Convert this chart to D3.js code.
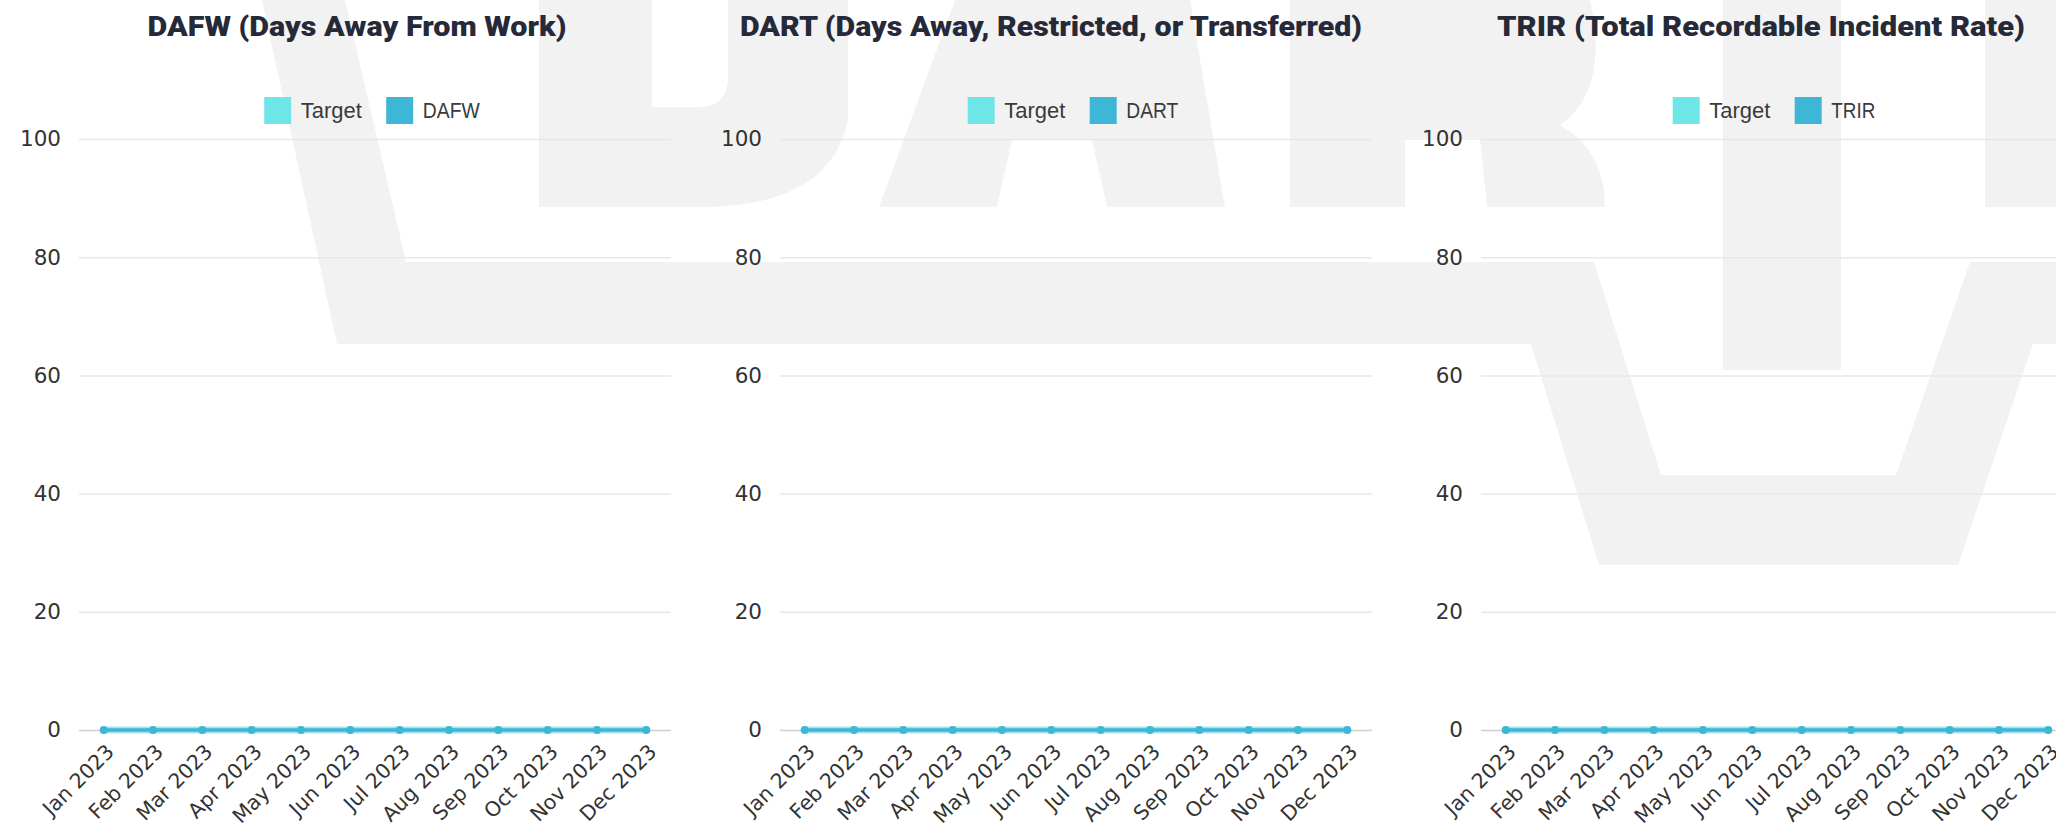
<!DOCTYPE html>
<html>
<head>
<meta charset="utf-8">
<script src="https://cdn.jsdelivr.net/npm/d3@7/dist/d3.min.js"></script>
<style>
  html, body { margin: 0; padding: 0; background: #ffffff; }
  svg { display: block; }
</style>
</head>
<body>
<svg id="chart" width="2056" height="828"></svg>
<script>
// ---------------- DATA ----------------
const months = ["Jan 2023","Feb 2023","Mar 2023","Apr 2023","May 2023","Jun 2023",
                "Jul 2023","Aug 2023","Sep 2023","Oct 2023","Nov 2023","Dec 2023"];
const yTicks = [0, 20, 40, 60, 80, 100];
const titles = ["DAFW (Days Away From Work)",
                "DART (Days Away, Restricted, or Transferred)",
                "TRIR (Total Recordable Incident Rate)"];
const seriesNames = ["DAFW", "DART", "TRIR"];
const targetName = "Target";
const dafwTarget = [0, 0, 0, 0, 0, 0, 0, 0, 0, 0, 0, 0];
const dafwValues = [0, 0, 0, 0, 0, 0, 0, 0, 0, 0, 0, 0];
const dartTarget = [0, 0, 0, 0, 0, 0, 0, 0, 0, 0, 0, 0];
const dartValues = [0, 0, 0, 0, 0, 0, 0, 0, 0, 0, 0, 0];
const trirTarget = [0, 0, 0, 0, 0, 0, 0, 0, 0, 0, 0, 0];
const trirValues = [0, 0, 0, 0, 0, 0, 0, 0, 0, 0, 0, 0];

// ---------------- LAYOUT / STYLE ----------------
const svg = d3.select("#chart");
const targetColor = "#6ee6e8";
const seriesColor = "#3db7d5";

const charts = [
  { title: titles[0], name: seriesNames[0], target: dafwTarget, values: dafwValues,
    left: 79, titleX: 357, titleW: 419, nameW: 57 },
  { title: titles[1], name: seriesNames[1], target: dartTarget, values: dartValues,
    left: 780, titleX: 1051, titleW: 622, nameW: 52 },
  { title: titles[2], name: seriesNames[2], target: trirTarget, values: trirValues,
    left: 1481, titleX: 1761, titleW: 528, nameW: 44 }
];
const plotW = 592, yTop = 139, yBottom = 730;

// ---------------- WATERMARK (background logo) ----------------
const wm = svg.append("g").attr("fill", "#f2f2f2");
// slanted stroke + band + big V
wm.append("path").attr("d",
  "M262,0 L345,0 L406,262 L1594,262 L1661,475 L1896,475 L1970,262 L2056,262 L2056,344 " +
  "L2033,344 L1958,565 L1599,565 L1531,344 L337,344 Z");
// D
wm.append("path").attr("fill-rule", "evenodd").attr("d",
  "M539,0 L848,0 L848,120 Q830,207 700,207 L539,207 Z " +
  "M652,0 L728,0 L728,80 Q726,107 700,107 L652,107 Z");
// A
wm.append("path").attr("d",
  "M955,0 L1190,0 L1225,207 L1107,207 L1092,140 L1012,140 L997,207 L879,207 Z");
// R
wm.append("path").attr("d",
  "M1290,0 L1590,0 Q1610,90 1560,125 Q1605,150 1605,207 L1487,207 L1480,140 L1405,140 L1405,207 L1290,207 Z");
// T stem
wm.append("rect").attr("x", 1723).attr("y", 0).attr("width", 118).attr("height", 370);
// next letter
wm.append("rect").attr("x", 1985).attr("y", 0).attr("width", 71).attr("height", 207);

// ---------------- CHARTS ----------------
charts.forEach(c => {
  const g = svg.append("g");
  const x = d3.scalePoint().domain(months).range([c.left, c.left + plotW]).padding(0.5);
  const y = d3.scaleLinear().domain([0, 100]).range([yBottom, yTop]);

  // title
  g.append("text")
    .attr("x", c.titleX).attr("y", 36)
    .attr("text-anchor", "middle")
    .attr("font-family", "Roboto, 'Liberation Sans', sans-serif")
    .attr("font-weight", 900)
    .attr("font-size", 27)
    .attr("fill", "#262a38")
    .attr("textLength", c.titleW)
    .attr("lengthAdjust", "spacingAndGlyphs")
    .text(c.title);

  // y axis + gridlines
  const ya = g.append("g")
    .attr("transform", `translate(${c.left},0)`)
    .call(d3.axisLeft(y).tickValues(yTicks).tickSize(-plotW).tickPadding(18));
  ya.select(".domain").remove();
  ya.selectAll(".tick line")
    .attr("stroke", d => d === 0 ? "#cfcfcf" : "#e8e8e8")
    .attr("stroke-width", 1.5);
  ya.selectAll(".tick text")
    .attr("font-family", "'DejaVu Sans', sans-serif")
    .attr("font-size", 21.5)
    .attr("fill", "#333");

  // x axis
  const xa = g.append("g")
    .attr("transform", `translate(0,${yBottom})`)
    .call(d3.axisBottom(x).tickSize(0));
  xa.select(".domain").remove();
  xa.selectAll(".tick text")
    .attr("x", 0).attr("y", 0).attr("dy", 0)
    .attr("text-anchor", "end")
    .attr("transform", "translate(11,23) rotate(-45)")
    .attr("font-family", "'DejaVu Sans', sans-serif")
    .attr("font-size", 20.5)
    .attr("fill", "#333");

  // lines
  const line = d3.line().x((d, i) => x(months[i])).y(d => y(d));
  g.append("path").datum(c.target)
    .attr("d", line).attr("fill", "none")
    .attr("stroke", "#a6e2ef").attr("stroke-width", 7);
  g.append("path").datum(c.values)
    .attr("d", line).attr("fill", "none")
    .attr("stroke", seriesColor).attr("stroke-width", 3.5);
  g.selectAll("circle.pt").data(c.values).join("circle")
    .attr("class", "pt")
    .attr("cx", (d, i) => x(months[i])).attr("cy", d => y(d))
    .attr("r", 4).attr("fill", seriesColor);

  // legend
  const sw = 27, gapT = 9.6, gapItem = 24.4, targetW = 61;
  const total = sw + gapT + targetW + gapItem + sw + gapT + c.nameW;
  const lx = c.left + plotW / 2 - 3 - total / 2;
  const items = [
    { label: targetName, color: targetColor, w: targetW, x0: lx },
    { label: c.name, color: seriesColor, w: c.nameW, x0: lx + sw + gapT + targetW + gapItem }
  ];
  const lg = g.append("g");
  items.forEach(it => {
    lg.append("rect").attr("x", it.x0).attr("y", 97).attr("width", sw).attr("height", 27)
      .attr("fill", it.color);
    lg.append("text").attr("x", it.x0 + sw + gapT).attr("y", 117.5)
      .attr("font-family", "'Liberation Sans', Arial, sans-serif")
      .attr("font-size", 22)
      .attr("fill", "#3a3a3a")
      .attr("textLength", it.w)
      .attr("lengthAdjust", "spacingAndGlyphs")
      .text(it.label);
  });
});
</script>
</body>
</html>
